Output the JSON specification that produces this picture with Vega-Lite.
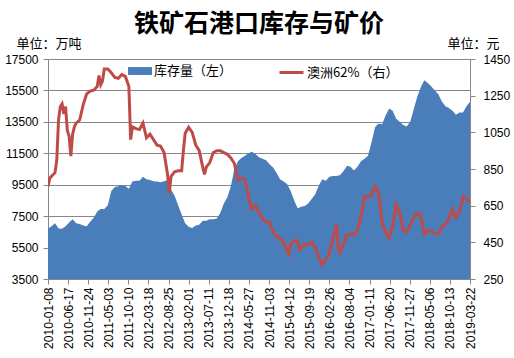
{
  "$schema": "https://vega.github.io/schema/vega-lite/v6.json",
  "autosize": {"type": "none"},
  "padding": {"left": 48, "top": 59, "right": 44, "bottom": 79},
  "width": 422,
  "height": 220,
  "background": "white",
  "title": {"text": "铁矿石港口库存与矿价", "font": "Noto Sans CJK SC", "fontSize": 25, "fontWeight": "bold", "color": "#000", "anchor": "middle", "offset": 0},
  "config": {
    "view": {"stroke": null},
    "axis": {"labelFont": "Liberation Sans", "labelFontSize": 12, "labelColor": "#000", "tickColor": "#868686", "domainColor": "#868686", "titleFont": "Noto Sans CJK SC", "titleFontSize": 13, "titleFontWeight": "normal", "titleColor": "#000", "labelOverlap": false}
  },
  "datasets": {
    "inv": [
      {"date": "2010-01-08", "inv": 6700}, {"date": "2010-02-05", "inv": 6850}, {"date": "2010-03-05", "inv": 7040}, {"date": "2010-04-02", "inv": 6720},
      {"date": "2010-04-30", "inv": 6700}, {"date": "2010-05-28", "inv": 6850}, {"date": "2010-06-25", "inv": 7100}, {"date": "2010-07-23", "inv": 7300},
      {"date": "2010-08-20", "inv": 7050}, {"date": "2010-09-17", "inv": 7000}, {"date": "2010-10-15", "inv": 6900}, {"date": "2010-11-12", "inv": 6850},
      {"date": "2010-12-10", "inv": 7150}, {"date": "2011-01-07", "inv": 7400}, {"date": "2011-02-04", "inv": 7800}, {"date": "2011-03-04", "inv": 7950},
      {"date": "2011-04-01", "inv": 7950}, {"date": "2011-04-29", "inv": 8200}, {"date": "2011-05-27", "inv": 9100}, {"date": "2011-06-24", "inv": 9350},
      {"date": "2011-07-22", "inv": 9400}, {"date": "2011-08-19", "inv": 9480}, {"date": "2011-09-16", "inv": 9420}, {"date": "2011-10-14", "inv": 9250},
      {"date": "2011-11-11", "inv": 9700}, {"date": "2011-12-09", "inv": 9750}, {"date": "2012-01-06", "inv": 9750}, {"date": "2012-02-03", "inv": 10000},
      {"date": "2012-03-02", "inv": 9850}, {"date": "2012-03-30", "inv": 9800}, {"date": "2012-04-27", "inv": 9720}, {"date": "2012-05-25", "inv": 9700},
      {"date": "2012-06-22", "inv": 9650}, {"date": "2012-07-20", "inv": 9720}, {"date": "2012-08-17", "inv": 9780}, {"date": "2012-09-14", "inv": 9200},
      {"date": "2012-10-12", "inv": 8800}, {"date": "2012-11-09", "inv": 8200}, {"date": "2012-12-07", "inv": 7600}, {"date": "2013-01-04", "inv": 7050},
      {"date": "2013-02-01", "inv": 6830}, {"date": "2013-03-01", "inv": 6750}, {"date": "2013-03-29", "inv": 6900}, {"date": "2013-04-26", "inv": 6950},
      {"date": "2013-05-24", "inv": 7200}, {"date": "2013-06-21", "inv": 7200}, {"date": "2013-07-19", "inv": 7300}, {"date": "2013-08-16", "inv": 7300},
      {"date": "2013-09-13", "inv": 7350}, {"date": "2013-10-11", "inv": 7700}, {"date": "2013-11-08", "inv": 8300}, {"date": "2013-12-06", "inv": 8700},
      {"date": "2014-01-03", "inv": 9400}, {"date": "2014-01-31", "inv": 10500}, {"date": "2014-02-28", "inv": 11000}, {"date": "2014-03-28", "inv": 11200},
      {"date": "2014-04-25", "inv": 11350}, {"date": "2014-05-23", "inv": 11500}, {"date": "2014-06-20", "inv": 11600}, {"date": "2014-07-18", "inv": 11450},
      {"date": "2014-08-15", "inv": 11250}, {"date": "2014-09-12", "inv": 11150}, {"date": "2014-10-10", "inv": 11050}, {"date": "2014-11-07", "inv": 10800},
      {"date": "2014-12-05", "inv": 10600}, {"date": "2015-01-02", "inv": 10250}, {"date": "2015-01-30", "inv": 9850}, {"date": "2015-02-27", "inv": 9700},
      {"date": "2015-03-27", "inv": 9550}, {"date": "2015-04-24", "inv": 9100}, {"date": "2015-05-22", "inv": 8500}, {"date": "2015-06-19", "inv": 8000},
      {"date": "2015-07-17", "inv": 8100}, {"date": "2015-08-14", "inv": 8150}, {"date": "2015-09-11", "inv": 8300}, {"date": "2015-10-09", "inv": 8600},
      {"date": "2015-11-06", "inv": 8900}, {"date": "2015-12-04", "inv": 9450}, {"date": "2016-01-01", "inv": 9850}, {"date": "2016-01-29", "inv": 9750},
      {"date": "2016-02-26", "inv": 10000}, {"date": "2016-03-25", "inv": 10050}, {"date": "2016-04-22", "inv": 10050}, {"date": "2016-05-20", "inv": 10100},
      {"date": "2016-06-17", "inv": 10350}, {"date": "2016-07-15", "inv": 10700}, {"date": "2016-08-12", "inv": 10650}, {"date": "2016-09-09", "inv": 10400},
      {"date": "2016-10-07", "inv": 10650}, {"date": "2016-11-04", "inv": 11000}, {"date": "2016-12-02", "inv": 11150}, {"date": "2016-12-30", "inv": 11350},
      {"date": "2017-01-27", "inv": 12200}, {"date": "2017-02-24", "inv": 13150}, {"date": "2017-03-24", "inv": 13400}, {"date": "2017-04-21", "inv": 13350},
      {"date": "2017-05-19", "inv": 13900}, {"date": "2017-06-16", "inv": 14350}, {"date": "2017-07-14", "inv": 14200}, {"date": "2017-08-11", "inv": 13700},
      {"date": "2017-09-08", "inv": 13500}, {"date": "2017-10-06", "inv": 13300}, {"date": "2017-11-03", "inv": 13200}, {"date": "2017-12-01", "inv": 13500},
      {"date": "2017-12-29", "inv": 14300}, {"date": "2018-01-26", "inv": 15100}, {"date": "2018-02-23", "inv": 15700}, {"date": "2018-03-23", "inv": 16150},
      {"date": "2018-04-20", "inv": 15980}, {"date": "2018-05-18", "inv": 15750}, {"date": "2018-06-15", "inv": 15500}, {"date": "2018-07-13", "inv": 15250},
      {"date": "2018-08-10", "inv": 14800}, {"date": "2018-09-07", "inv": 14500}, {"date": "2018-10-05", "inv": 14380}, {"date": "2018-11-02", "inv": 14200},
      {"date": "2018-11-30", "inv": 13950}, {"date": "2018-12-28", "inv": 14100}, {"date": "2019-01-25", "inv": 14100}, {"date": "2019-02-22", "inv": 14500},
      {"date": "2019-03-22", "inv": 14780}
    ],
    "price": [
      {"date": "2010-01-08", "price": 755}, {"date": "2010-01-22", "price": 800}, {"date": "2010-02-05", "price": 810}, {"date": "2010-03-05", "price": 830},
      {"date": "2010-03-19", "price": 900}, {"date": "2010-04-02", "price": 1120}, {"date": "2010-04-16", "price": 1190}, {"date": "2010-04-30", "price": 1205},
      {"date": "2010-05-14", "price": 1150}, {"date": "2010-05-28", "price": 1190}, {"date": "2010-06-11", "price": 1060}, {"date": "2010-06-25", "price": 1030},
      {"date": "2010-07-09", "price": 920}, {"date": "2010-07-23", "price": 1040}, {"date": "2010-08-06", "price": 1080}, {"date": "2010-08-20", "price": 1100},
      {"date": "2010-09-17", "price": 1117}, {"date": "2010-10-15", "price": 1200}, {"date": "2010-11-12", "price": 1260}, {"date": "2010-12-10", "price": 1275},
      {"date": "2011-01-07", "price": 1280}, {"date": "2011-02-04", "price": 1300}, {"date": "2011-02-18", "price": 1360}, {"date": "2011-03-04", "price": 1310},
      {"date": "2011-03-18", "price": 1330}, {"date": "2011-04-01", "price": 1395}, {"date": "2011-04-29", "price": 1395}, {"date": "2011-05-27", "price": 1375},
      {"date": "2011-06-24", "price": 1350}, {"date": "2011-07-22", "price": 1345}, {"date": "2011-08-19", "price": 1365}, {"date": "2011-09-16", "price": 1355},
      {"date": "2011-10-14", "price": 1300}, {"date": "2011-10-28", "price": 1010}, {"date": "2011-11-11", "price": 1080}, {"date": "2011-12-09", "price": 1070},
      {"date": "2012-01-06", "price": 1065}, {"date": "2012-02-03", "price": 1100}, {"date": "2012-03-02", "price": 1020}, {"date": "2012-03-30", "price": 1040},
      {"date": "2012-04-27", "price": 1010}, {"date": "2012-05-25", "price": 980}, {"date": "2012-06-22", "price": 975}, {"date": "2012-07-20", "price": 940},
      {"date": "2012-08-17", "price": 820}, {"date": "2012-08-31", "price": 720}, {"date": "2012-09-14", "price": 810}, {"date": "2012-10-12", "price": 835},
      {"date": "2012-11-09", "price": 840}, {"date": "2012-12-07", "price": 840}, {"date": "2012-12-21", "price": 950}, {"date": "2013-01-04", "price": 1045},
      {"date": "2013-02-01", "price": 1078}, {"date": "2013-03-01", "price": 1050}, {"date": "2013-03-29", "price": 981}, {"date": "2013-04-26", "price": 950},
      {"date": "2013-05-24", "price": 860}, {"date": "2013-06-07", "price": 820}, {"date": "2013-06-21", "price": 860}, {"date": "2013-07-19", "price": 885},
      {"date": "2013-08-16", "price": 940}, {"date": "2013-09-13", "price": 950}, {"date": "2013-10-11", "price": 950}, {"date": "2013-11-08", "price": 940},
      {"date": "2013-12-06", "price": 930}, {"date": "2014-01-03", "price": 910}, {"date": "2014-01-31", "price": 880}, {"date": "2014-02-28", "price": 790},
      {"date": "2014-03-28", "price": 800}, {"date": "2014-04-25", "price": 790}, {"date": "2014-05-23", "price": 700}, {"date": "2014-06-20", "price": 630},
      {"date": "2014-07-18", "price": 650}, {"date": "2014-08-15", "price": 615}, {"date": "2014-09-12", "price": 575}, {"date": "2014-10-10", "price": 565},
      {"date": "2014-11-07", "price": 560}, {"date": "2014-12-05", "price": 505}, {"date": "2015-01-02", "price": 485}, {"date": "2015-01-30", "price": 470},
      {"date": "2015-02-27", "price": 450}, {"date": "2015-03-27", "price": 400}, {"date": "2015-04-10", "price": 385}, {"date": "2015-04-24", "price": 440},
      {"date": "2015-05-22", "price": 460}, {"date": "2015-06-19", "price": 460}, {"date": "2015-07-03", "price": 410}, {"date": "2015-07-17", "price": 420},
      {"date": "2015-08-14", "price": 440}, {"date": "2015-09-11", "price": 435}, {"date": "2015-10-09", "price": 450}, {"date": "2015-11-06", "price": 420},
      {"date": "2015-12-04", "price": 370}, {"date": "2016-01-01", "price": 328}, {"date": "2016-01-29", "price": 355}, {"date": "2016-02-26", "price": 390},
      {"date": "2016-03-25", "price": 470}, {"date": "2016-04-08", "price": 500}, {"date": "2016-04-22", "price": 550}, {"date": "2016-05-06", "price": 420},
      {"date": "2016-05-20", "price": 395}, {"date": "2016-06-17", "price": 440}, {"date": "2016-07-15", "price": 490}, {"date": "2016-08-12", "price": 495},
      {"date": "2016-09-09", "price": 490}, {"date": "2016-10-07", "price": 515}, {"date": "2016-11-04", "price": 590}, {"date": "2016-12-02", "price": 700},
      {"date": "2016-12-30", "price": 695}, {"date": "2017-01-27", "price": 708}, {"date": "2017-02-24", "price": 755}, {"date": "2017-03-24", "price": 720},
      {"date": "2017-04-21", "price": 560}, {"date": "2017-05-19", "price": 505}, {"date": "2017-06-16", "price": 475}, {"date": "2017-07-14", "price": 540},
      {"date": "2017-08-11", "price": 655}, {"date": "2017-09-08", "price": 615}, {"date": "2017-10-06", "price": 515}, {"date": "2017-11-03", "price": 508},
      {"date": "2017-12-01", "price": 545}, {"date": "2017-12-29", "price": 585}, {"date": "2018-01-26", "price": 608}, {"date": "2018-02-23", "price": 595},
      {"date": "2018-03-23", "price": 495}, {"date": "2018-04-20", "price": 515}, {"date": "2018-05-18", "price": 510}, {"date": "2018-06-15", "price": 500},
      {"date": "2018-07-13", "price": 495}, {"date": "2018-08-10", "price": 535}, {"date": "2018-09-07", "price": 550}, {"date": "2018-10-05", "price": 580},
      {"date": "2018-11-02", "price": 630}, {"date": "2018-11-16", "price": 600}, {"date": "2018-11-30", "price": 585}, {"date": "2018-12-28", "price": 615},
      {"date": "2019-01-25", "price": 700}, {"date": "2019-02-22", "price": 690}, {"date": "2019-03-22", "price": 665}
    ]
  },
  "encoding": {
    "x": {
      "field": "date", "type": "temporal",
      "scale": {"type": "utc", "domain": [{"year": 2010, "month": 1, "date": 8, "utc": true}, {"year": 2019, "month": 3, "date": 22, "utc": true}], "nice": false},
      "axis": {
        "title": null, "format": "%Y-%m-%d", "labelAngle": -90, "tickSize": 5, "labelPadding": 3, "grid": false, "labelOverlap": false, "labelSeparation": 0, "labelBound": false,
        "values": [
          {"year": 2010, "month": 1, "date": 8, "utc": true}, {"year": 2010, "month": 6, "date": 17, "utc": true},
          {"year": 2010, "month": 11, "date": 24, "utc": true}, {"year": 2011, "month": 5, "date": 3, "utc": true},
          {"year": 2011, "month": 10, "date": 10, "utc": true}, {"year": 2012, "month": 3, "date": 18, "utc": true},
          {"year": 2012, "month": 8, "date": 25, "utc": true}, {"year": 2013, "month": 2, "date": 1, "utc": true},
          {"year": 2013, "month": 7, "date": 11, "utc": true}, {"year": 2013, "month": 12, "date": 18, "utc": true},
          {"year": 2014, "month": 5, "date": 27, "utc": true}, {"year": 2014, "month": 11, "date": 3, "utc": true},
          {"year": 2015, "month": 4, "date": 12, "utc": true}, {"year": 2015, "month": 9, "date": 19, "utc": true},
          {"year": 2016, "month": 2, "date": 26, "utc": true}, {"year": 2016, "month": 8, "date": 4, "utc": true},
          {"year": 2017, "month": 1, "date": 11, "utc": true}, {"year": 2017, "month": 6, "date": 20, "utc": true},
          {"year": 2017, "month": 11, "date": 27, "utc": true}, {"year": 2018, "month": 5, "date": 6, "utc": true},
          {"year": 2018, "month": 10, "date": 13, "utc": true}, {"year": 2019, "month": 3, "date": 22, "utc": true}
        ]
      }
    }
  },
  "layer": [
    {
      "data": {"name": "inv"},
      "mark": {"type": "area", "clip": true, "opacity": 1},
      "encoding": {
        "y": {
          "field": "inv", "type": "quantitative",
          "scale": {"domain": [3500, 17500], "zero": false, "nice": false},
          "axis": {
            "orient": "left", "values": [3500, 5500, 7500, 9500, 11500, 13500, 15500, 17500], "format": "d", "grid": true, "gridColor": "#868686", "gridWidth": 1,
            "tickSize": 5, "labelPadding": 5, "title": "单位：万吨", "titleAngle": 0, "titleX": -32, "titleY": -16, "titleAlign": "left", "titleBaseline": "middle"
          }
        },
        "fill": {"datum": "库存量（左）", "type": "nominal", "scale": {"range": ["#4a7ebb"]},
          "legend": {"orient": "none", "legendX": 80, "legendY": 0, "direction": "horizontal", "title": null, "symbolType": "M-1,-0.33H1V0.33H-1Z", "symbolSize": 576, "symbolStrokeWidth": 0, "symbolOpacity": 1, "labelFont": "Noto Sans CJK SC", "labelFontSize": 13, "labelColor": "#000", "labelOffset": 2}
        }
      }
    },
    {
      "data": {"name": "price"},
      "mark": {"type": "line", "strokeWidth": 3, "clip": true},
      "encoding": {
        "y": {
          "field": "price", "type": "quantitative",
          "scale": {"domain": [250, 1450], "zero": false, "nice": false},
          "axis": {
            "orient": "right", "values": [250, 450, 650, 850, 1050, 1250, 1450], "format": "d", "grid": false, "tickSize": 5, "labelPadding": 8,
            "title": "单位：元", "titleAngle": 0, "titleX": -23, "titleY": -16, "titleAlign": "left", "titleBaseline": "middle"
          }
        },
        "stroke": {"datum": "澳洲62%（右）", "type": "nominal", "scale": {"range": ["#be4b48"]},
          "legend": {"orient": "none", "legendX": 230, "legendY": 0, "direction": "horizontal", "title": null, "symbolType": "stroke", "symbolSize": 576, "symbolStrokeWidth": 3, "labelFont": "Noto Sans CJK SC", "labelFontSize": 13, "labelColor": "#000", "labelOffset": 2}
        }
      }
    }
  ],
  "resolve": {"scale": {"y": "independent"}}
}
